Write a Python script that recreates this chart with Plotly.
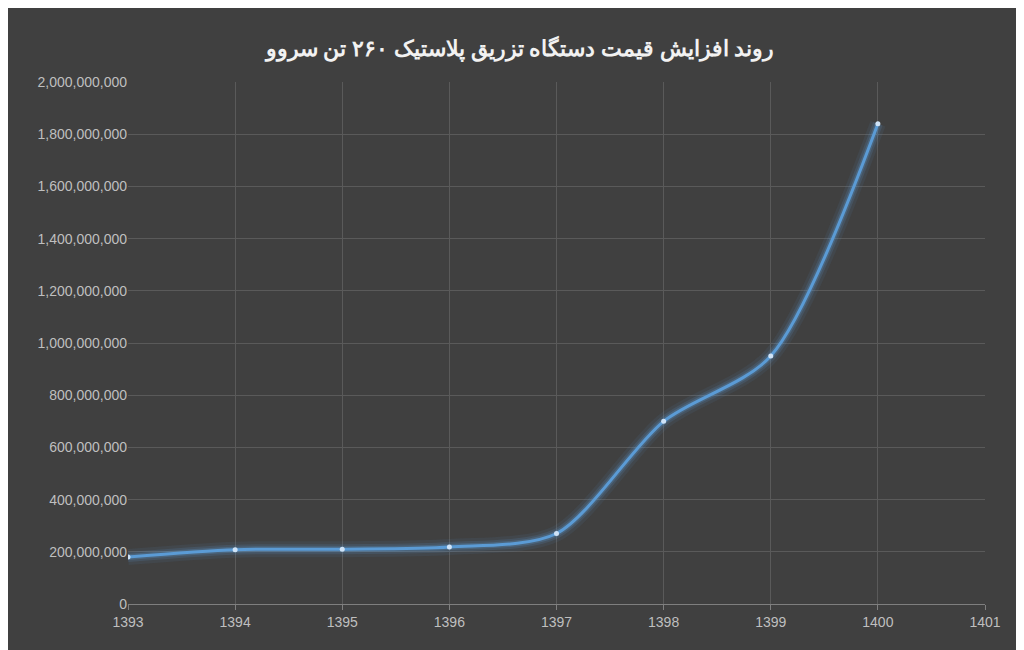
import plotly.graph_objects as go

years = [1393, 1394, 1395, 1396, 1397, 1398, 1399, 1400]
prices = [180000000, 208000000, 210000000, 218000000, 270000000, 700000000, 950000000, 1840000000]
title = "<b>روند افزایش قیمت دستگاه تزریق پلاستیک ۲۶۰ تن سروو</b>"

fig = go.Figure()
# soft glow under the line
for w, a in [(16, 0.08), (10, 0.15), (6, 0.25)]:
    fig.add_trace(go.Scatter(x=years, y=prices, mode="lines", line=dict(color=f"rgba(91,155,213,{a})", width=w, shape="spline", smoothing=0.8), hoverinfo="skip", showlegend=False))
fig.add_trace(go.Scatter(x=years, y=prices, mode="lines+markers",
                         line=dict(color="#5b9bd5", width=3, shape="spline", smoothing=0.8),
                         marker=dict(color="#cfe3f7", size=5), showlegend=False))

fig.update_layout(
    width=1024, height=650,
    paper_bgcolor="#404040", plot_bgcolor="#404040",
    margin=dict(l=120, r=47, t=74, b=54),
    title=dict(text=title, x=0.5, y=0.95, xanchor="center",
               font=dict(family="Noto Sans", size=22, color="#f2f2f2")),
    font=dict(family="Liberation Sans", size=14, color="#bfbfbf"),
    xaxis=dict(range=[1393, 1401], tickvals=list(range(1393, 1402)), showgrid=True,
               gridcolor="#5a5a5a", zeroline=False, showline=True, linecolor="#7f7f7f",
               ticks="outside", tickcolor="#7f7f7f", ticklen=5),
    yaxis=dict(range=[0, 2000000000], dtick=200000000, tickformat=",d", showgrid=True,
               gridcolor="#5a5a5a", zeroline=False, ticks="", showline=False),
)
fig.write_html("out.html")
